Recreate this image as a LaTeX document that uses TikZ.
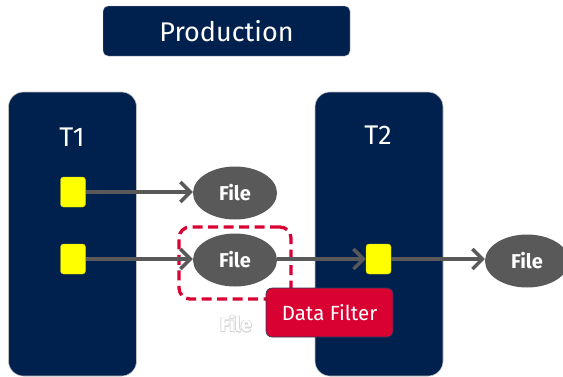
\documentclass[tikz,border=0pt]{standalone}
\usepackage{fontspec}
\setmainfont{Fira Sans}
\usetikzlibrary{arrows.meta,shapes.geometric}
\definecolor{navy}{HTML}{00204E}
\definecolor{filegray}{HTML}{595959}
\definecolor{crim}{HTML}{D90032}
\definecolor{yel}{HTML}{FFFF00}
\tikzset{
  col/.style={draw=gray!50, line width=0.6pt, fill=navy, rounded corners=15pt, minimum width=128pt, minimum height=284pt, inner sep=0pt},
  sq/.style={draw=yel!80!black, line width=0.4pt, fill=yel, rounded corners=3pt, minimum width=25pt, minimum height=30pt, inner sep=0pt},
  filee/.style={ellipse, fill=filegray, minimum width=84pt, minimum height=53pt, inner sep=0pt, text=white, font=\fontsize{20}{22}\selectfont\bfseries},
  arr/.style={draw=filegray, line width=3.6pt, -{Straight Barb[length=10pt,width=20pt,line width=3.4pt]}},
  ttl/.style={text=white, font=\fontsize{27}{30}\selectfont}
}
\begin{document}
\begin{tikzpicture}[x=1pt,y=-1pt]
\useasboundingbox (0,0) rectangle (563,376);
% Production
\node[fill=navy, draw=gray!50, line width=0.4pt, rounded corners=5pt, minimum width=247pt, minimum height=50pt, inner sep=0pt, ttl] (prod) at (226.5,31) {Production};
% columns
\node[col] (t1col) at (72.5,234) {};
\node[col] (t2col) at (379,234) {};
\node[ttl] (t1) at (72,137) {T1};
\node[ttl] (t2) at (378,135) {T2};
% squares
\node[sq] (s1) at (73,192) {};
\node[sq] (s2) at (73,259) {};
\node[sq] (s3) at (378.5,259) {};
% dashed box
\node[draw=crim, dash pattern=on 10pt off 5.5pt, line width=3.3pt, rounded corners=11pt, minimum width=112pt, minimum height=72pt, inner sep=0pt] (dbox) at (235,263) {};
% files
\node[filee] (f1) at (235,193) {File};
\node[filee] (f2) at (235,260) {File};
\node[filee] (f3) at (527,261) {File};
% ghost text
\foreach \dx/\dy in {-0.6/0,0.6/0,0/-0.6,0/0.6,-0.5/-0.5,0.5/0.5,-0.5/0.5,0.5/-0.5}
  \node[text=gray!35, font=\fontsize{20}{22}\selectfont\bfseries] at (236+\dx,324+\dy) {File};
\node[text=white, font=\fontsize{20}{22}\selectfont\bfseries] (ghost) at (236,324) {File};
% data filter
\node[fill=crim, draw=navy!70!gray, line width=0.6pt, rounded corners=6pt, minimum width=127pt, minimum height=49pt, inner sep=0pt, text=white, font=\fontsize{20.5}{23}\selectfont] (df) at (329.5,312.5) {Data Filter};
% arrows
\draw[arr] (s1.east) -- (s1.east -| f1.west);
\draw[arr] (s2.east) -- (s2.east -| f2.west);
\draw[arr] (f2.east |- s3.west) -- (s3.west);
\draw[arr] (s3.east) -- (s3.east -| f3.west);
\end{tikzpicture}
\end{document}
